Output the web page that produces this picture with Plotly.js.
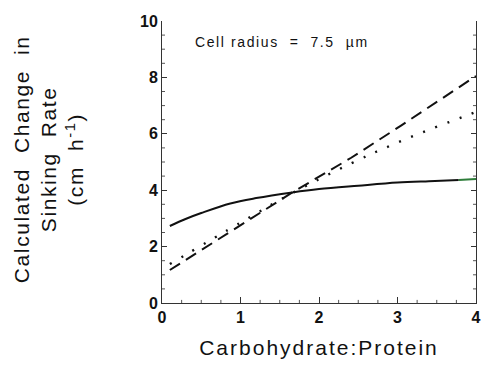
<!DOCTYPE html>
<html>
<head>
<meta charset="utf-8">
<script src="https://cdn.plot.ly/plotly-3.0.1.min.js"></script>
<style>
  html, body { margin: 0; padding: 0; background: #fff; }
  #chart { width: 481px; height: 369px; }
  .xtitle { letter-spacing: 2px; }
  .annotation-text { letter-spacing: 1.6px; }
</style>
</head>
<body>
<div id="chart"></div>
<script>
// Solid curve
var solidX = [0.1, 0.3, 0.5, 0.87, 1.2, 1.66, 2.0, 2.5, 3.0, 3.4, 3.78];
var solidY = [2.73, 2.98, 3.19, 3.53, 3.72, 3.92, 4.04, 4.16, 4.27, 4.32, 4.36];
// Short green tail segment
var greenX = [3.78, 4.0];
var greenY = [4.36, 4.4];
// Dashed line
var dashX = [0.1, 1.66, 2.41, 3.05, 4.0];
var dashY = [1.17, 3.92, 5.15, 6.3, 8.05];
// Dotted line
var dotX = [0.1, 1.0, 1.66, 2.41, 2.9, 3.39, 3.9, 4.0];
var dotY = [1.38, 2.85, 3.9, 4.95, 5.57, 6.13, 6.67, 6.78];

// Tick positions and labels
var xTicks = [0, 1, 2, 3, 4];
var yTicks = [0, 2, 4, 6, 8, 10];
var xMinorTicks = [0.25, 0.5, 0.75, 1.25, 1.5, 1.75, 2.25, 2.5, 2.75, 3.25, 3.5, 3.75];
var yMinorTicks = [0.5, 1, 1.5, 2.5, 3, 3.5, 4.5, 5, 5.5, 6.5, 7, 7.5, 8.5, 9, 9.5];

var traces = [
  {x: solidX, y: solidY, mode: 'lines', line: {color: '#111', width: 2, shape: 'spline'}, hoverinfo: 'skip'},
  {x: greenX, y: greenY, mode: 'lines', line: {color: '#2e7d3a', width: 2}, hoverinfo: 'skip'},
  {x: dashX, y: dashY, mode: 'lines', line: {color: '#111', width: 2, dash: '12px,7px'}, hoverinfo: 'skip'},
  {x: dotX, y: dotY, mode: 'lines', line: {color: '#111', width: 2.4, dash: '2px,11px', shape: 'spline'}, hoverinfo: 'skip'}
];

var fam = 'Liberation Sans, Arial, sans-serif';
var tickFont = {family: fam, size: 16, color: '#111', weight: 'bold'};

// Minor tick marks (decoration) placed on the axis scales
var minorShapes = [];
xMinorTicks.forEach(function (v) {
  minorShapes.push({type: 'line', xref: 'x', yref: 'paper', x0: v, x1: v, y0: 0, y1: 0.011,
    line: {color: '#555', width: 1}, layer: 'above'});
});
yMinorTicks.forEach(function (v) {
  minorShapes.push({type: 'line', xref: 'paper', yref: 'y', x0: 0, x1: 0.0096, y0: v, y1: v,
    line: {color: '#555', width: 1}, layer: 'above'});
  minorShapes.push({type: 'line', xref: 'paper', yref: 'y', x0: 0.9904, x1: 1, y0: v, y1: v,
    line: {color: '#555', width: 1}, layer: 'above'});
});

var layout = {
  width: 481, height: 369,
  margin: {l: 162, r: 5, t: 21, b: 66},
  paper_bgcolor: '#fff',
  plot_bgcolor: '#fff',
  showlegend: false,
  xaxis: {
    range: [0, 4],
    tickmode: 'array',
    tickvals: xTicks,
    ticktext: xTicks.map(String),
    ticks: 'inside', ticklen: 6, tickwidth: 1, tickcolor: '#333',
    showline: true, linecolor: '#333', linewidth: 1,
    showgrid: false, zeroline: false,
    tickfont: tickFont,
    title: {text: 'Carbohydrate:Protein', font: {family: fam, size: 21, color: '#111'}, standoff: 15}
  },
  yaxis: {
    range: [0, 10],
    tickmode: 'array',
    tickvals: yTicks,
    ticktext: yTicks.map(String),
    ticks: 'inside', ticklen: 5, tickwidth: 1, tickcolor: '#333',
    showline: true, linecolor: '#333', linewidth: 1, mirror: 'ticks',
    showgrid: false, zeroline: false,
    tickfont: tickFont
  },
  shapes: minorShapes,
  annotations: [
    {
      text: 'Calculated\u00a0 Change\u00a0 in<br>Sinking\u00a0 Rate<br>(cm\u00a0 h<sup>-1</sup>)',
      textangle: -90, xref: 'paper', yref: 'paper', x: 0, y: 0.51,
      xanchor: 'center', yanchor: 'middle', xshift: -113, showarrow: false,
      font: {family: fam, size: 21, color: '#111'}
    },
    {
      text: 'Cell radius\u00a0 =\u00a0 7.5\u00a0 µm',
      xref: 'x', yref: 'y', x: 0.4, y: 9.26, xanchor: 'left', yanchor: 'middle', showarrow: false,
      font: {family: fam, size: 14, color: '#111'}
    }
  ]
};

Plotly.newPlot('chart', traces, layout, {displayModeBar: false});
</script>
</body>
</html>
